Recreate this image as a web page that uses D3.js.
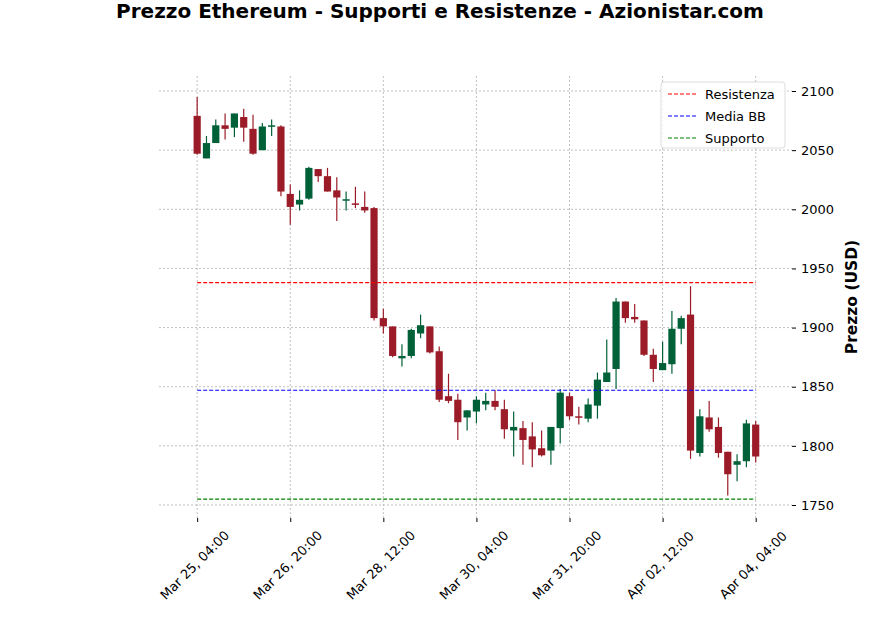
<!DOCTYPE html>
<html><head><meta charset="utf-8">
<script src="https://cdn.jsdelivr.net/npm/d3@7"></script>
<style>body{margin:0;background:#fff}</style></head>
<body><svg id="c" width="880" height="632"></svg>
<script>
const opens  = [2079,2043,2056,2071,2069,2078,2068,2050,2070,2070,2013,2004,2009,2034,2028,2016,2008,2005,2002,2001,1908,1901,1874,1876,1895,1901,1880,1842,1839,1824,1829,1835,1838,1831,1813,1815,1808,1798,1796,1815,1842,1825,1823,1834,1854,1865,1922,1909,1906,1877,1864,1869,1899,1911,1794,1824,1816,1795,1784,1787,1818];
const closes = [2047,2056,2071,2068,2081,2069,2047,2070,2071,2015,2002,2008,2035,2028,2015,2010,2008.5,2004,1999,1908,1901,1876,1876,1898,1902,1879,1839,1838,1820,1830,1839,1838,1833,1814,1816,1805,1797,1792,1816,1845,1825,1824,1835,1856,1862,1922,1908,1907,1877,1865,1870,1899,1908,1796,1825,1814,1794,1776,1787,1819,1791];
const highs  = [2095,2062,2076,2081,2081,2085,2080,2073,2076,2071,2021,2016,2036,2034,2035,2027,2015,2019,2015,2002,1916,1901,1886,1899,1911,1901,1884,1861,1844,1830,1842,1845,1847,1839,1829,1821,1820,1813,1816,1848,1845,1833,1840,1862,1890,1925,1922,1920,1906,1882,1888,1914,1910,1935,1831,1838,1824,1795,1793,1822,1821];
const lows   = [2046,2043,2056,2059,2061,2057,2046,2050,2062,2011,1987,1999,2008,2023,2015,1990,1999,2001,1997,1906,1895,1875,1867,1874,1891,1878,1837,1836,1805,1813,1819,1830,1830,1806,1791,1784,1782,1791,1784,1802,1822,1818,1820,1823,1854,1848,1904,1904,1876,1854,1864,1861,1886,1789,1791,1812,1790,1758,1770,1782,1786];
const resistenza = 1938, mediaBB = 1847, supporto = 1755;
const yTicks = [1750,1800,1850,1900,1950,2000,2050,2100];
const xTickIdx = [0,10,20,30,40,50,60];
const xTickLabels = ["Mar 25, 04:00","Mar 26, 20:00","Mar 28, 12:00","Mar 30, 04:00","Mar 31, 20:00","Apr 02, 12:00","Apr 04, 04:00"];

const svg = d3.select("#c");
const L=159,R=792,T=76,B=518;
const x = d3.scaleLinear().domain([-4.1,63.9]).range([L,R]);
const y = d3.scaleLinear().domain([1750,2100]).range([505,91]);
const font="DejaVu Sans";

const g = svg.append("g");
xTickIdx.forEach(i=>g.append("line").attr("x1",x(i)).attr("x2",x(i)).attr("y1",T).attr("y2",B).attr("stroke","#b0b0b0").attr("stroke-width",0.8).attr("stroke-dasharray","2,2"));
yTicks.forEach(v=>g.append("line").attr("x1",L).attr("x2",R).attr("y1",y(v)).attr("y2",y(v)).attr("stroke","#b0b0b0").attr("stroke-width",0.8).attr("stroke-dasharray","2,2"));

const red="#9b1c28", green="#006138";
const cg=svg.append("g");
opens.forEach((o,i)=>{
  const c=closes[i], col=c>=o?green:red;
  cg.append("line").attr("x1",x(i)).attr("x2",x(i)).attr("y1",y(highs[i])).attr("y2",y(lows[i])).attr("stroke",col).attr("stroke-width",1.2);
  const top=y(Math.max(o,c)), h=Math.max(1.5,Math.abs(y(o)-y(c)));
  cg.append("rect").attr("x",x(i)-3.6).attr("width",7.2).attr("y",top).attr("height",h).attr("fill",col);
});

[[resistenza,"#ff0000"],[mediaBB,"#0000ff"],[supporto,"#008000"]].forEach(([v,c])=>{
  svg.append("line").attr("x1",x(0)).attr("x2",x(60)).attr("y1",y(v)).attr("y2",y(v)).attr("stroke",c).attr("stroke-width",1.2).attr("stroke-dasharray","4,2");
});

const ya=svg.append("g").attr("transform",`translate(${R},0)`).call(d3.axisRight(y).tickValues(yTicks).tickSize(4).tickPadding(5).tickFormat(d3.format("d")));
ya.select(".domain").remove();
ya.selectAll("text").attr("font-family",font).attr("font-size",13).attr("fill","#000");
ya.selectAll("line").attr("stroke","#000");

const xa=svg.append("g").attr("transform",`translate(0,${B})`).call(d3.axisBottom(x).tickValues(xTickIdx).tickSize(4).tickFormat((d,i)=>xTickLabels[i]));
xa.select(".domain").remove();
xa.selectAll("line").attr("stroke","#000");
xa.selectAll("text").attr("font-family",font).attr("font-size",13).attr("fill","#000")
  .attr("text-anchor","middle").attr("y",0).attr("dy","0.35em").attr("transform","translate(-3,47) rotate(-45)");

svg.append("text").attr("x",440).attr("y",18).attr("text-anchor","middle").attr("font-family",font).attr("font-weight","bold").attr("font-size",20).text("Prezzo Ethereum - Supporti e Resistenze - Azionistar.com");
svg.append("text").attr("transform","translate(857,297) rotate(-90)").attr("text-anchor","middle").attr("font-family",font).attr("font-weight","bold").attr("font-size",15.5).text("Prezzo (USD)");

const lg=svg.append("g").attr("transform","translate(661,82)");
lg.append("rect").attr("width",124).attr("height",66).attr("rx",3).attr("fill","#fff").attr("fill-opacity",0.85).attr("stroke","#ddd");
[["Resistenza","#ff0000"],["Media BB","#0000ff"],["Supporto","#008000"]].forEach(([t,c],i)=>{
  const yy=12+i*22;
  lg.append("line").attr("x1",7).attr("x2",35).attr("y1",yy).attr("y2",yy).attr("stroke",c).attr("stroke-width",1.2).attr("stroke-dasharray","4,2");
  lg.append("text").attr("x",44).attr("y",yy+5).attr("font-family",font).attr("font-size",13).text(t);
});
</script></body></html>
